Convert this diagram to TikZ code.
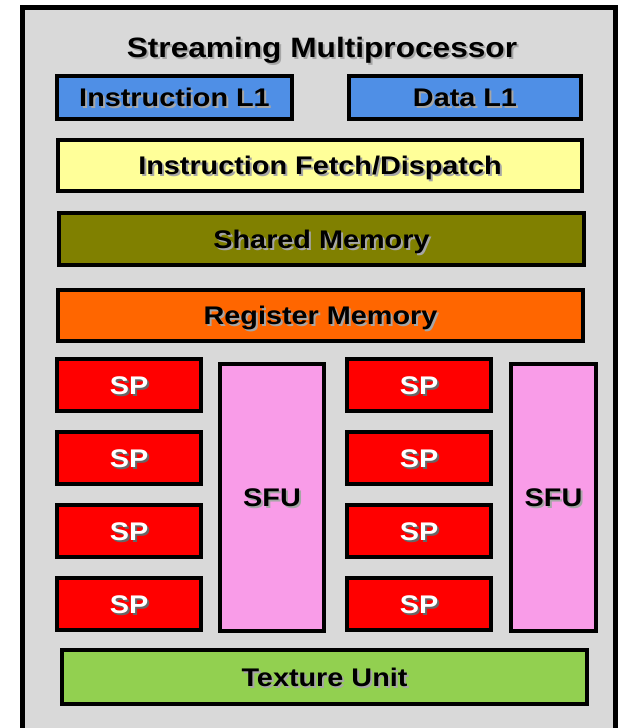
\documentclass[tikz,border=0pt]{standalone}
\usepackage{fontspec}
\usepackage{xcolor}
\usepackage{tikz}
\newfontfamily\smfont[FakeStretch=1.13]{Liberation Sans}
\definecolor{smgray}{HTML}{D9D9D9}
\definecolor{cacheblue}{HTML}{4F8FE6}
\definecolor{fetchyellow}{HTML}{FFFF99}
\definecolor{sharedolive}{HTML}{808000}
\definecolor{regorange}{HTML}{FF6600}
\definecolor{spred}{HTML}{FF0000}
\definecolor{sfupink}{HTML}{F99CE8}
\definecolor{texgreen}{HTML}{92D050}
% text with a soft drop shadow
\newcommand{\shtxt}[2][black!35]{\makebox[0pt][l]{\hspace{2pt}\raisebox{-2pt}{\textcolor{#1}{#2}}}#2}
\tikzset{
	unit/.style={draw,line width=4pt,rectangle,inner sep=0pt,text height=18pt,text depth=0pt,
		font=\smfont\bfseries\fontsize{25.5}{30}\selectfont},
	spunit/.style={unit,fill=spred,text=white,minimum width=144pt,minimum height=52pt},
	sfuunit/.style={unit,fill=sfupink,minimum height=267pt}
}

\begin{document}
\begin{tikzpicture}[x=1pt,y=-1pt]
	\useasboundingbox (0,0) rectangle (621,728);
	\fill[white] (0,0) rectangle (621,728);
	\draw[line width=5pt,fill=smgray] (22,7) rectangle (615,770);
	%
	\node[inner sep=0pt,text height=20pt,text depth=0pt,font=\smfont\bfseries\fontsize{28}{32}\selectfont] (title) at (322,47) {\shtxt{Streaming Multiprocessor}};
	\node[unit,fill=cacheblue,minimum width=235pt,minimum height=43pt] (il1) at (174.5,97.5) {\shtxt{Instruction L1}};
	\node[unit,fill=cacheblue,minimum width=232pt,minimum height=43pt] (dl1) at (465,97.5) {\shtxt{Data L1}};
	\node[unit,fill=fetchyellow,minimum width=524pt,minimum height=51pt] (fetch) at (320,165.5) {\shtxt{Instruction Fetch/Dispatch}};
	\node[unit,fill=sharedolive,minimum width=525pt,minimum height=52pt] (shared) at (321.5,239) {\shtxt{Shared Memory}};
	\node[unit,fill=regorange,minimum width=525pt,minimum height=51pt] (reg) at (320.5,315.5) {\shtxt{Register Memory}};
	%
	\foreach \r [count=\i] in {385,458,531,604} {
		\node[spunit] (spa\i) at (129,\r) {\shtxt[black!60]{SP}};
		\node[spunit] (spb\i) at (419,\r) {\shtxt[black!60]{SP}};
	}
	\node[sfuunit,minimum width=104pt] (sfua) at (272,497.5) {\shtxt{SFU}};
	\node[sfuunit,minimum width=85pt] (sfub) at (553.5,497.5) {\shtxt{SFU}};
	%
	\node[unit,fill=texgreen,minimum width=525pt,minimum height=54pt] (tex) at (324.5,677) {\shtxt{Texture Unit}};
\end{tikzpicture}
\end{document}
